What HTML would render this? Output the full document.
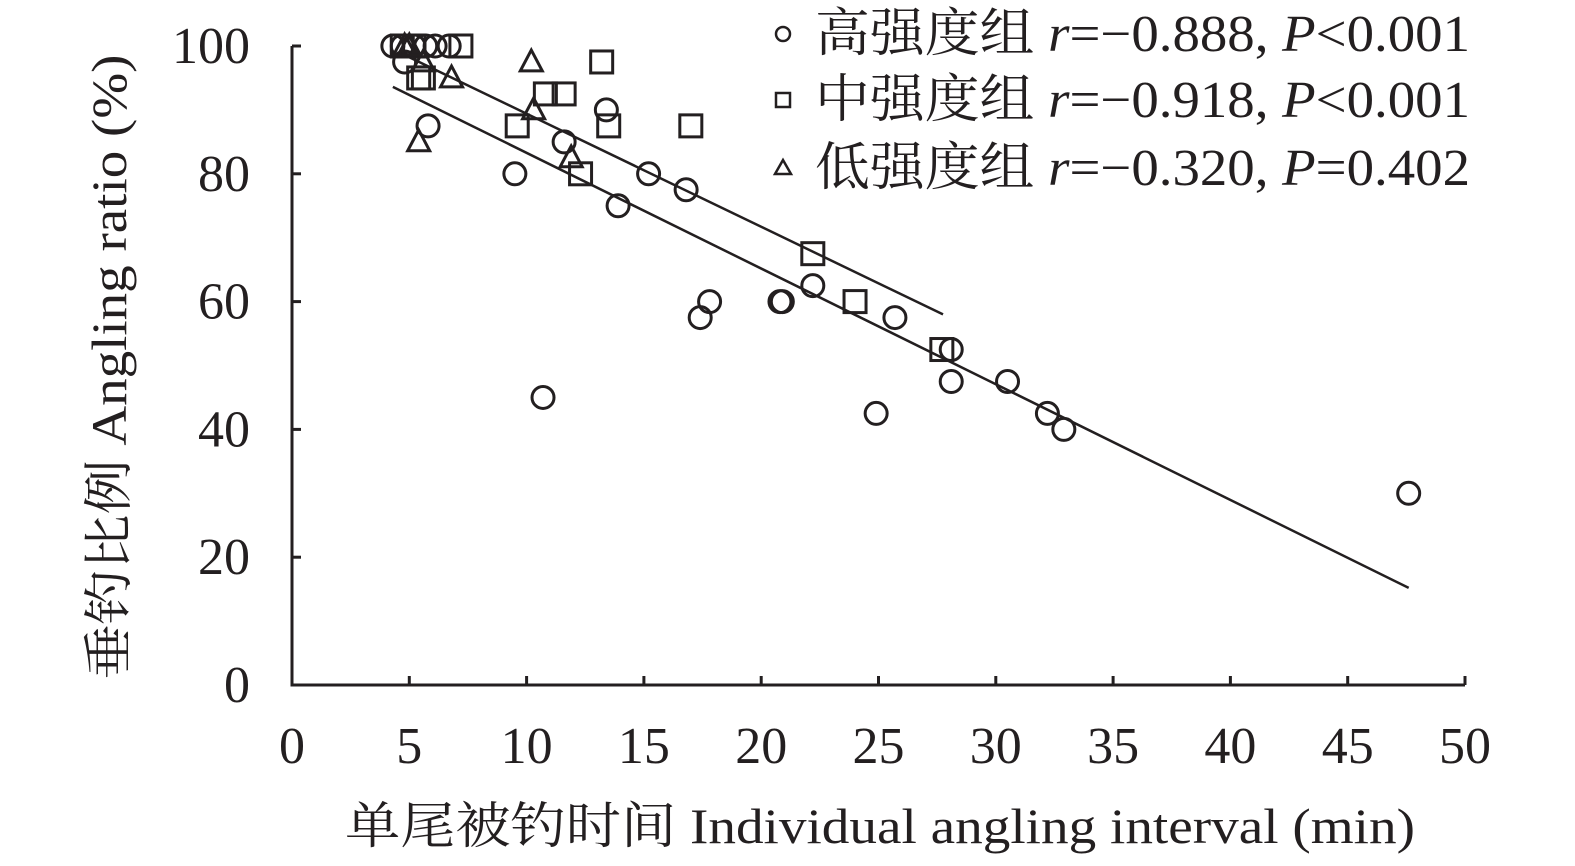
<!DOCTYPE html>
<html><head><meta charset="utf-8"><style>
body{margin:0;background:#fff}
svg{display:block}
text{font-family:"Liberation Serif","Noto Serif CJK SC",serif;fill:#231f20}
</style></head><body>
<svg id="chart" width="1575" height="866" viewBox="0 0 1575 866" xmlns="http://www.w3.org/2000/svg">
<g id="axes"></g>
<g id="lines"></g>
<g id="marks"></g>
<g id="legend"></g>
<text transform="translate(126,367) rotate(-90)" text-anchor="middle" font-size="50" textLength="625" lengthAdjust="spacingAndGlyphs">垂钓比例 Angling ratio (%)</text>
<text x="880" y="843" text-anchor="middle" font-size="50" textLength="1070" lengthAdjust="spacingAndGlyphs">单尾被钓时间 Individual angling interval (min)</text>
</svg>
<script>
const xTicks=[0,5,10,15,20,25,30,35,40,45,50];
const yTicks=[0,20,40,60,80,100];
const highX=[4.3,4.7,5.2,5.7,6.1,6.7,4.8,5.8,9.5,11.6,13.4,10.7,13.9,15.2,16.8,17.4,17.8,20.8,20.9,22.2,24.9,25.7,28.1,28.1,30.5,32.2,32.9,47.6];
const highY=[100,100,100,100,100,100,97.5,87.5,80,85,90,45,75,80,77.5,57.5,60,60,60,62.5,42.5,57.5,52.5,47.5,47.5,42.5,40,30];
const midX=[4.7,5.2,7.2,5.4,5.6,13.2,10.8,11.6,9.6,13.5,17.0,12.3,22.2,24.0,27.7];
const midY=[100,100,100,95,95,97.5,92.5,92.5,87.5,87.5,87.5,80,67.5,60,52.5];
const lowX=[4.8,5.0,5.6,6.8,5.4,10.2,10.3,11.9];
const lowY=[100,100,97.5,95,85,97.5,90,82.5];
const fitX=[[4.3,47.6],[4.8,27.75]];
const fitY=[[93.6,15.2],[98.6,58]];
const legendLabels=[["高强度组 ","r","=−0.888, ","P","<0.001"],["中强度组 ","r","=−0.918, ","P","<0.001"],["低强度组 ","r","=−0.320, ","P","=0.402"]];
const NS="http://www.w3.org/2000/svg";
const X0=292,X1=1465,Y0=685,Y1=46;
const sx=v=>X0+(X1-X0)*v/50, sy=v=>Y0-(Y0-Y1)*v/100;
function mk(tag,attrs,parent){const e=document.createElementNS(NS,tag);for(const k in attrs)e.setAttribute(k,attrs[k]);parent.appendChild(e);return e;}
const axes=document.getElementById('axes');
let l=mk('path',{d:`M${X0},${Y1} V${Y0} H${X1}`,fill:'none',stroke:'#231f20','stroke-width':3},axes);


xTicks.forEach(t=>{
 const tk=mk('line',{x1:sx(t),x2:sx(t),y1:Y0,y2:Y0-9,stroke:'#231f20','stroke-width':3},axes);
 
 
 const tx=mk('text',{x:sx(t),y:763,'text-anchor':'middle','font-size':52},axes);tx.textContent=t;
 
 
});
yTicks.forEach(t=>{
 const tk=mk('line',{x1:X0,x2:X0+9,y1:sy(t),y2:sy(t),stroke:'#231f20','stroke-width':3},axes);
 
 
 const tx=mk('text',{x:250,y:sy(t)+17,'text-anchor':'end','font-size':52},axes);tx.textContent=t;
 
 
});
const lines=document.getElementById('lines');
fitX.forEach((fx,i)=>{
 const ln=mk('line',{x1:sx(fx[0]),y1:sy(fitY[i][0]),x2:sx(fx[1]),y2:sy(fitY[i][1]),stroke:'#231f20','stroke-width':2.5},lines);
 
 
});
const marks=document.getElementById('marks');
const st={fill:'none',stroke:'#231f20','stroke-width':3};
function circle(x,y,r,p){return mk('circle',Object.assign({cx:x,cy:y,r:r},st),p);}
function square(x,y,s,p){return mk('rect',Object.assign({x:x-s/2,y:y-s/2,width:s,height:s},st),p);}
function tri(x,y,s,p){const h=s*0.9;return mk('polygon',Object.assign({points:`${x},${y-h*0.6} ${x-s/2},${y+h*0.45} ${x+s/2},${y+h*0.45}`},st),p);}
highX.forEach((v,i)=>{const e=circle(sx(v),sy(highY[i]),11,marks);
 
 });
midX.forEach((v,i)=>{const e=square(sx(v),sy(midY[i]),22,marks);
 
 });
lowX.forEach((v,i)=>{const e=tri(sx(v),sy(lowY[i]),22,marks);
 
 });
const lg=document.getElementById('legend');
const rowY=[34,100,168];
const st2={fill:'none',stroke:'#231f20','stroke-width':2.5};
legendLabels.forEach((lab,i)=>{
 const y=rowY[i];let m;
 if(i==0)m=mk('circle',Object.assign({cx:783,cy:y,r:7},st2),lg);
 else if(i==1)m=mk('rect',Object.assign({x:776,y:y-7,width:14,height:14},st2),lg);
 else m=mk('polygon',Object.assign({points:`783,${y-8} 775,${y+6} 791,${y+6}`},st2),lg);
 
 
 const t=mk('text',{x:815,y:y+17,'font-size':52,textLength:655,lengthAdjust:'spacingAndGlyphs'},lg);
 
 
 lab.forEach((s,j)=>{const ts=mk('tspan',{},t);if(j==1||j==3)ts.setAttribute('font-style','italic');ts.textContent=s;});
});
</script>
</body></html>
